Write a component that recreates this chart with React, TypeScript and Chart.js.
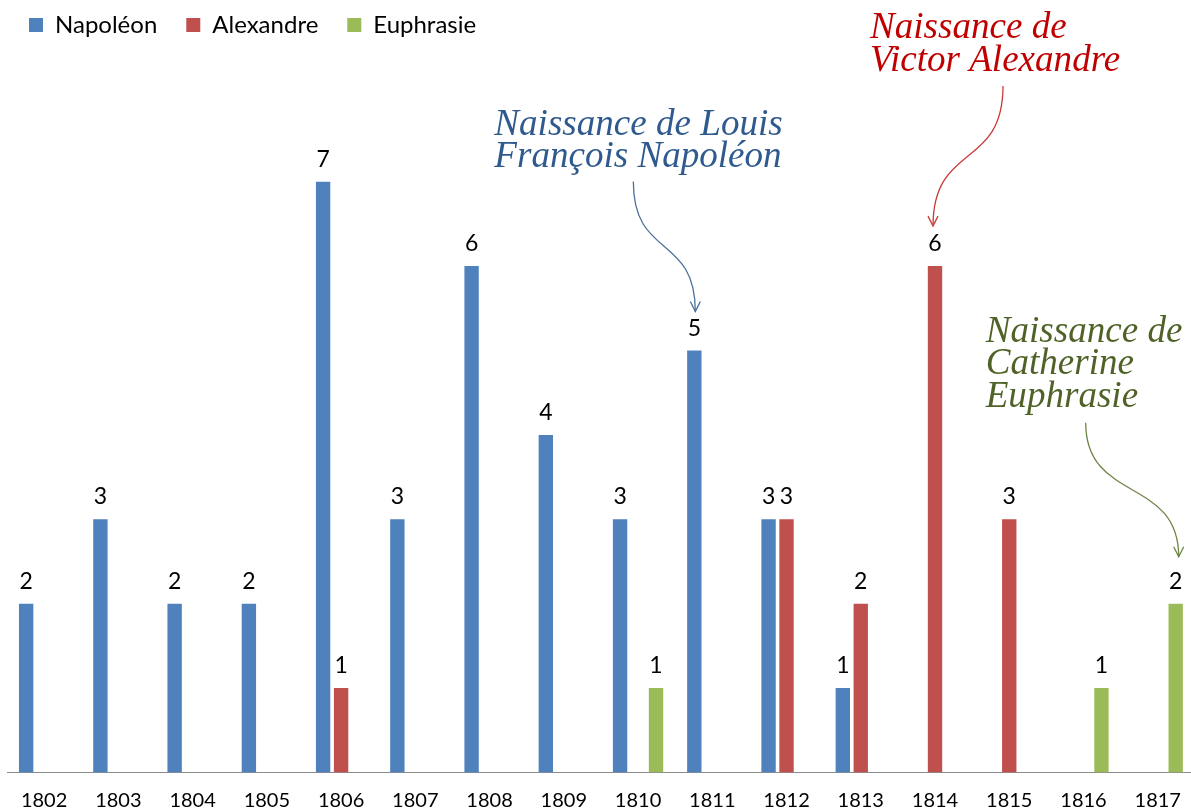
import React, { useEffect, useRef } from 'react';
import { Chart, registerables } from 'chart.js';

Chart.register(...registerables);

const years = ['1802', '1803', '1804', '1805', '1806', '1807', '1808', '1809', '1810', '1811', '1812', '1813', '1814', '1815', '1816', '1817'];
const napoleon = [2, 3, 2, 2, 7, 3, 6, 4, 3, 5, 3, 1, null, null, null, null];
const alexandre = [null, null, null, null, 1, null, null, null, null, null, 3, 2, 6, 3, null, null];
const euphrasie = [null, null, null, null, null, null, null, null, 1, null, null, null, null, null, 1, 2];

const seriesNames = ['Napoléon', 'Alexandre', 'Euphrasie'];
const seriesColors = ['#4F81BD', '#C0504D', '#9BBB59'];

const noteLines = [
  ['Naissance de Louis', 'François Napoléon'],
  ['Naissance de', 'Victor Alexandre'],
  ['Naissance de', 'Catherine', 'Euphrasie'],
];
const noteAnchors = [
  { ds: 0, idx: 9 },
  { ds: 1, idx: 12 },
  { ds: 2, idx: 15 },
];
const noteTextColors = ['#2F5A8F', '#C00000', '#4F6228'];
const noteArrowColors = ['#4A6F99', '#C83A3A', '#6E8548'];
// offsets relative to the anchored bar top (x, y)
const noteTextOffsets = [
  { dx: -200, dy: -216 },
  { dx: -65, dy: -228 },
  { dx: -190, dy: -262 },
];
const noteArrowStarts = [
  { dx: -61, dy: -169 },
  { dx: 68, dy: -180 },
  { dx: -90, dy: -181 },
];
const noteArrowTips = [
  { dx: 1, dy: -39 },
  { dx: -2, dy: -40 },
  { dx: 3, dy: -47 },
];

const FONT = 'Lato, "Open Sans", sans-serif';

const dataLabelPlugin = {
  id: 'dataLabels',
  afterDatasetsDraw(chart: any) {
    const ctx = chart.ctx;
    ctx.save();
    ctx.font = `23px ${FONT}`;
    ctx.fillStyle = '#000';
    ctx.textAlign = 'center';
    ctx.textBaseline = 'alphabetic';
    chart.data.datasets.forEach((ds: any, di: number) => {
      const meta = chart.getDatasetMeta(di);
      meta.data.forEach((el: any, i: number) => {
        const v = ds.data[i];
        if (v === null || v === undefined) return;
        ctx.fillText(String(v), el.x, el.y - 15);
      });
    });
    ctx.restore();
  },
};

const notesPlugin = {
  id: 'notes',
  afterDraw(chart: any) {
    const ctx = chart.ctx;
    ctx.save();
    const family = '"Liberation Serif", "DejaVu Serif", serif';
    ctx.font = `italic 30px ${family}`;
    const w = ctx.measureText('Naissance de').width;
    const size = (30 * 197) / w;
    noteAnchors.forEach((a, n) => {
      const el = chart.getDatasetMeta(a.ds).data[a.idx];
      if (!el) return;
      const bx = el.x;
      const by = el.y;
      ctx.font = `italic ${size.toFixed(1)}px ${family}`;
      ctx.fillStyle = noteTextColors[n];
      ctx.textAlign = 'left';
      ctx.textBaseline = 'alphabetic';
      noteLines[n].forEach((line, li) => {
        ctx.fillText(line, bx + noteTextOffsets[n].dx, by + noteTextOffsets[n].dy + li * 32.5);
      });
      const sx = bx + noteArrowStarts[n].dx;
      const sy = by + noteArrowStarts[n].dy;
      const tx = bx + noteArrowTips[n].dx;
      const ty = by + noteArrowTips[n].dy;
      const h = ty - sy;
      ctx.strokeStyle = noteArrowColors[n];
      ctx.lineWidth = 1.3;
      ctx.beginPath();
      ctx.moveTo(sx, sy);
      ctx.bezierCurveTo(sx, sy + 0.6 * h, tx, ty - 0.6 * h, tx, ty);
      ctx.stroke();
      ctx.beginPath();
      ctx.moveTo(tx - 5, ty - 10);
      ctx.lineTo(tx, ty);
      ctx.lineTo(tx + 5, ty - 10);
      ctx.stroke();
    });
    ctx.restore();
  },
};

export default function App() {
  const canvasRef = useRef<HTMLCanvasElement | null>(null);

  useEffect(() => {
    if (!canvasRef.current) return;
    const chart = new Chart(canvasRef.current, {
      type: 'bar',
      data: {
        labels: years,
        datasets: [
          { label: seriesNames[0], data: napoleon, backgroundColor: seriesColors[0], borderWidth: 0 },
          { label: seriesNames[1], data: alexandre, backgroundColor: seriesColors[1], borderWidth: 0 },
          { label: seriesNames[2], data: euphrasie, backgroundColor: seriesColors[2], borderWidth: 0 },
        ],
      },
      options: {
        animation: false,
        responsive: false,
        devicePixelRatio: 1,
        layout: { padding: { top: -16, left: 0, right: 0, bottom: -16.5 } },
        datasets: {
          bar: { categoryPercentage: 0.726, barPercentage: 0.8 },
        },
        plugins: {
          legend: {
            position: 'top',
            align: 'start',
            labels: {
              boxWidth: 14,
              boxHeight: 14,
              padding: 29,
              color: '#000',
              font: { family: FONT, size: 24 },
            },
          },
          tooltip: { enabled: false },
        },
        scales: {
          x: {
            grid: { display: false, drawTicks: false },
            border: { display: true, color: '#8C8C8C', width: 1 },
            ticks: { color: '#000', padding: 16, font: { family: FONT, size: 20 }, maxRotation: 0, autoSkip: false },
          },
          xTop: {
            type: 'category',
            position: 'top',
            display: true,
            grid: { display: false, drawTicks: false },
            border: { display: false },
            ticks: { display: false },
            afterFit: (s: any) => {
              s.height = 50.3;
            },
          },
          y: {
            min: 0,
            max: 8,
            grid: { display: false, drawTicks: false },
            border: { display: false },
            ticks: { display: false },
            afterFit: (s: any) => {
              s.width = 7;
            },
          },
        },
      },
      plugins: [dataLabelPlugin, notesPlugin],
    } as any);
    return () => chart.destroy();
  }, []);

  return (
    <div style={{ position: 'fixed', left: 0, top: 0, width: 1191, height: 812, overflow: 'hidden', background: '#fff' }}>
      <canvas ref={canvasRef} width={1197} height={812} style={{ width: 1197, height: 812, display: 'block' }} />
    </div>
  );
}
